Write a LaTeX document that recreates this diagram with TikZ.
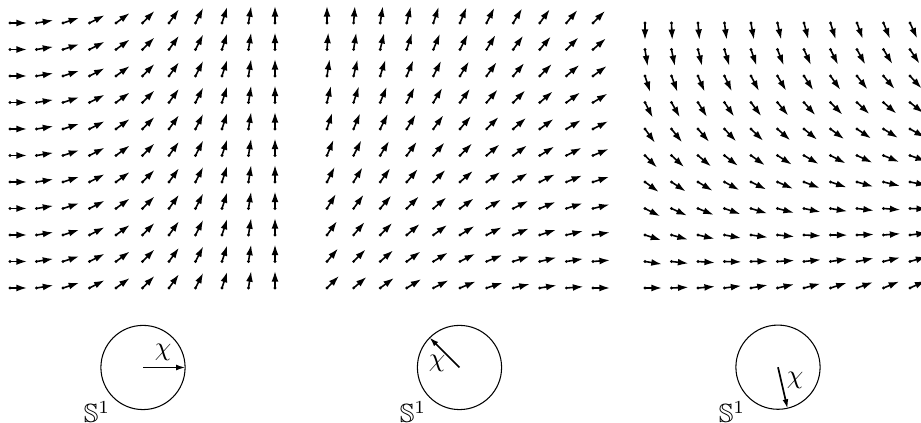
\documentclass[tikz,border=0pt]{standalone}
\usepackage{amssymb}
\usetikzlibrary{arrows.meta}
\tikzset{
  fieldarrow/.style={line width=0.6pt, -{Latex[length=4pt,width=2.6pt]}},
  phasecircle/.style={draw, circle, line width=0.4pt, minimum size=32pt, inner sep=0pt},
  phasearrow/.style={line width=0.65pt, -{Latex[length=3.6pt,width=2.2pt]}}
}
\begin{document}
\begin{tikzpicture}[x=0.38pt, y=0.38pt]
\clip (0,0) rectangle (921,423);
% first field: angle grows along x
\foreach \i in {0,...,10} \foreach \r in {0,...,10} {
  \pgfmathsetmacro{\ang}{9*\i}
  \fill (10+26.5*\i, 135+26.5*\r) circle (0.6pt);
  \draw[fieldarrow] (10+26.5*\i, 135+26.5*\r) -- ++(\ang:17);
}
% second field
\foreach \i in {0,...,10} \foreach \r in {0,...,10} {
  \pgfmathsetmacro{\ang}{45+4.5*(\r-\i)}
  \fill (327+26.6*\i, 135+26.5*\r) circle (0.6pt);
  \draw[fieldarrow] (327+26.6*\i, 135+26.5*\r) -- ++(\ang:17);
}
% third field
\foreach \i in {0,...,10} \foreach \r in {0,...,10} {
  \pgfmathsetmacro{\ang}{-9*\r+2.5*\i}
  \fill (645+26.5*\i, 135+26.5*\r) circle (0.6pt);
  \draw[fieldarrow] (645+26.5*\i, 135+26.5*\r) -- ++(\ang:17);
}
% circles with the phase chi
\node[phasecircle] (circ1) at (143,55.5) {};
\node[phasecircle] (circ2) at (459.5,55.5) {};
\node[phasecircle] (circ3) at (778,55.8) {};
\draw[phasearrow] (circ1.center) -- (circ1.0);
\draw[phasearrow] (circ2.center) -- (circ2.135);
\draw[phasearrow] (circ3.center) -- (circ3.-77);
\node (chi1) at (163,71) {$\chi$};
\node (chi2) at (437,60) {$\chi$};
\node (chi3) at (795,43) {$\chi$};
\node (sone1) at (97,11) {$\mathbb{S}^1$};
\node (sone2) at (413,11) {$\mathbb{S}^1$};
\node (sone3) at (732,11) {$\mathbb{S}^1$};
\end{tikzpicture}
\end{document}
